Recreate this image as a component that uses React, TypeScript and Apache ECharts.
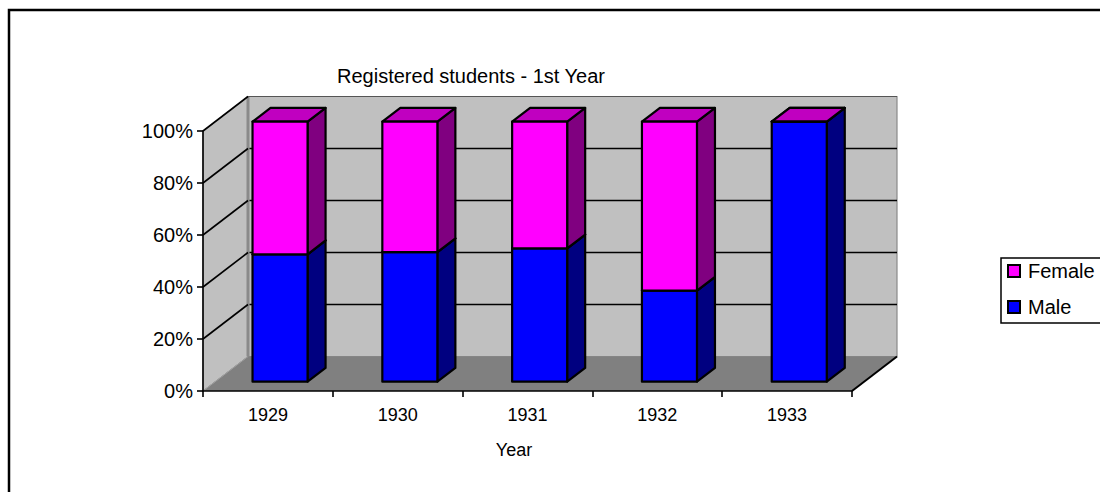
import React, { useEffect, useRef } from "react";
import * as echarts from "echarts";

// Registered first-year students, share by sex (%)
const YEARS = ["1929", "1930", "1931", "1932", "1933"];
const MALE = [49, 49.8, 51.3, 35, 100];
const FEMALE = [51, 50.2, 48.7, 65, 0];
const PERCENT_TICKS = [0, 20, 40, 60, 80, 100];

// depth of the 3D box (pixels of x / y offset from the front plane to the back wall)
const DEPTH_X = 45;
const DEPTH_Y = -34.5;
const BAR_FRONT = 0.27;
const BAR_BACK = 0.67;
const BAR_RATIO = 0.424;

const FONT = "Liberation Sans, Arial, sans-serif";

function wallsItem(params: any, api: any) {
  const cs = params.coordSys;
  const L = cs.x;
  const R = cs.x + cs.width;
  const T = cs.y;
  const B = cs.y + cs.height;
  const children: any[] = [];
  // left side wall
  children.push({
    type: "polygon",
    shape: { points: [[L, T], [L + DEPTH_X, T + DEPTH_Y], [L + DEPTH_X, B + DEPTH_Y], [L, B]] },
    style: { fill: "#C0C0C0", stroke: "#808080", lineWidth: 1 },
  });
  // back wall
  children.push({
    type: "polygon",
    shape: {
      points: [
        [L + DEPTH_X, T + DEPTH_Y],
        [R + DEPTH_X, T + DEPTH_Y],
        [R + DEPTH_X, B + DEPTH_Y],
        [L + DEPTH_X, B + DEPTH_Y],
      ],
    },
    style: { fill: "#C0C0C0", stroke: "#8a8a8a", lineWidth: 1.2 },
  });
  // floor
  children.push({
    type: "polygon",
    shape: { points: [[L, B], [L + DEPTH_X, B + DEPTH_Y], [R + DEPTH_X, B + DEPTH_Y], [R, B]] },
    style: { fill: "#808080", stroke: "none" },
  });
  children.push({
    type: "line",
    shape: { x1: L, y1: B, x2: L + DEPTH_X, y2: B + DEPTH_Y },
    style: { stroke: "#a0a0a0", lineWidth: 1 },
  });
  children.push({
    type: "line",
    shape: { x1: R, y1: B, x2: R + DEPTH_X, y2: B + DEPTH_Y },
    style: { stroke: "#000", lineWidth: 2 },
  });
  // corner between the side wall and the back wall
  children.push({
    type: "line",
    shape: { x1: L + DEPTH_X, y1: T + DEPTH_Y, x2: L + DEPTH_X, y2: B + DEPTH_Y },
    style: { stroke: "#8a8a8a", lineWidth: 3 },
  });
  // gridlines across the side wall and the back wall
  PERCENT_TICKS.forEach((v) => {
    if (v === 0) return;
    const y = api.coord([0, v])[1];
    children.push({
      type: "line",
      shape: { x1: L, y1: y, x2: L + DEPTH_X, y2: y + DEPTH_Y },
      style: { stroke: "#000", lineWidth: 1.6 },
    });
    if (v < 100) {
      children.push({
        type: "line",
        shape: { x1: L + DEPTH_X + 1.5, y1: y + DEPTH_Y, x2: R + DEPTH_X, y2: y + DEPTH_Y },
        style: { stroke: "#000", lineWidth: 1.6 },
      });
    } else {
      children.push({
        type: "line",
        shape: { x1: L + DEPTH_X, y1: y + DEPTH_Y, x2: R + DEPTH_X, y2: y + DEPTH_Y },
        style: { stroke: "#555", lineWidth: 1.2 },
      });
    }
  });
  return { type: "group", children };
}

function boxItem(front: string, side: string, top: string) {
  return (params: any, api: any) => {
    const cat = api.value(0);
    const lo = api.value(1);
    const hi = api.value(2);
    const pLo = api.coord([cat, lo]);
    const pHi = api.coord([cat, hi]);
    const w = api.size([1, 0])[0] * BAR_RATIO;
    const fx = DEPTH_X * BAR_FRONT;
    const fy = DEPTH_Y * BAR_FRONT;
    const tx = DEPTH_X * (BAR_BACK - BAR_FRONT);
    const ty = DEPTH_Y * (BAR_BACK - BAR_FRONT);
    const x0 = pLo[0] - w / 2 + fx;
    const x1 = x0 + w;
    const yb = pLo[1] + fy;
    const yt = pHi[1] + fy;
    const line = { stroke: "#000", lineWidth: 2.2, lineJoin: "round" };
    return {
      type: "group",
      children: [
        {
          type: "polygon",
          shape: { points: [[x1, yt], [x1 + tx, yt + ty], [x1 + tx, yb + ty], [x1, yb]] },
          style: { fill: side, ...line },
        },
        {
          type: "polygon",
          shape: { points: [[x0, yt], [x1, yt], [x1 + tx, yt + ty], [x0 + tx, yt + ty]] },
          style: { fill: top, ...line },
        },
        {
          type: "polygon",
          shape: { points: [[x0, yt], [x1, yt], [x1, yb], [x0, yb]] },
          style: { fill: front, ...line },
        },
      ],
    };
  };
}

export default function App() {
  const ref = useRef<HTMLDivElement>(null);

  useEffect(() => {
    if (!ref.current) return;
    const chart = echarts.init(ref.current, undefined, { renderer: "svg" });

    const maleData = YEARS.map((_, i) => [i, 0, MALE[i]]);
    const femaleData = YEARS.map((_, i) => [i, MALE[i], MALE[i] + FEMALE[i]]);

    chart.setOption({
      animation: false,
      backgroundColor: "#fff",
      title: {
        text: "Registered students - 1st Year",
        left: 466,
        top: 61,
        textAlign: "center",
        textStyle: { fontFamily: FONT, fontSize: 20, fontWeight: "normal", color: "#000" },
      },
      legend: {
        data: ["Female", "Male"],
        orient: "vertical",
        left: 1001,
        top: 258,
        padding: [3, 40, 6, 6],
        itemGap: 16,
        itemWidth: 12,
        itemHeight: 12,
        icon: "rect",
        borderColor: "#000",
        borderWidth: 1.5,
        itemStyle: { borderColor: "#000", borderWidth: 2 },
        textStyle: { fontFamily: FONT, fontSize: 20, color: "#000", padding: [0, 0, 0, 3] },
      },
      grid: { left: 203, right: 248, top: 131, height: 260 },
      xAxis: {
        type: "category",
        data: YEARS,
        boundaryGap: true,
        z: 5,
        name: "Year",
        nameLocation: "middle",
        nameGap: 50,
        nameTextStyle: { fontFamily: FONT, fontSize: 18, color: "#000", padding: [0, 27, 0, 0] },
        axisLine: { lineStyle: { color: "#000", width: 1.6 } },
        axisTick: { show: true, length: 6, lineStyle: { color: "#000", width: 1.6 } },
        axisLabel: { fontFamily: FONT, fontSize: 18, color: "#000", margin: 15 },
        splitLine: { show: false },
      },
      yAxis: {
        type: "value",
        min: 0,
        max: 100,
        interval: 20,
        z: 5,
        axisLine: { show: true, lineStyle: { color: "#000", width: 1.6 } },
        axisTick: { show: true, length: 6, lineStyle: { color: "#000", width: 1.6 } },
        axisLabel: { fontFamily: FONT, fontSize: 20, color: "#000", margin: 10, formatter: "{value}%" },
        splitLine: { show: false },
      },
      graphic: [
        {
          type: "polyline",
          shape: { points: [[9, 492], [9, 10], [1100, 10]] },
          style: { stroke: "#000", lineWidth: 2.5, fill: "none" },
          z: 10,
        },
      ],
      series: [
        {
          type: "custom",
          name: "walls",
          z: 1,
          clip: false,
          silent: true,
          renderItem: wallsItem,
          data: [[0, 0]],
        },
        {
          type: "custom",
          name: "Male",
          z: 2,
          clip: false,
          itemStyle: { color: "#0000FF" },
          renderItem: boxItem("#0000FF", "#000080", "#0000C0"),
          encode: { x: 0, y: 2 },
          data: maleData,
        },
        {
          type: "custom",
          name: "Female",
          z: 3,
          clip: false,
          itemStyle: { color: "#FF00FF" },
          renderItem: boxItem("#FF00FF", "#800080", "#C000C0"),
          encode: { x: 0, y: 2 },
          data: femaleData,
        },
      ],
    });

    return () => chart.dispose();
  }, []);

  return (
    <div
      ref={ref}
      style={{ position: "fixed", left: 0, top: 0, width: 1100, height: 492, background: "#fff" }}
    />
  );
}
